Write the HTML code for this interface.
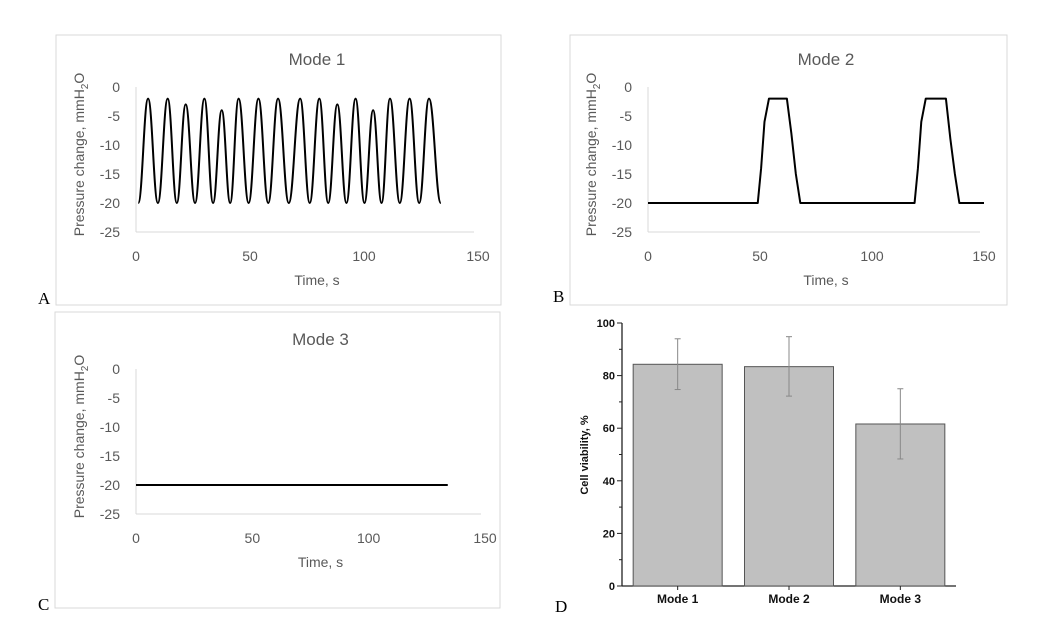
<!DOCTYPE html>
<html><head><meta charset="utf-8"><style>
body{margin:0;background:#fff;}
svg{display:block;font-family:"Liberation Sans",sans-serif;}
.tk{fill:#595959;font-size:14px;}
.tt{fill:#595959;font-size:17px;}
.at{fill:#595959;font-size:14px;}
.pl{font-family:"Liberation Serif",serif;font-size:17px;fill:#000;}
</style></head><body>
<svg id="s" width="1042" height="639" viewBox="0 0 1042 639">
<rect x="56" y="35" width="445" height="270" fill="#fff" stroke="#d9d9d9"/>
<rect x="570" y="35" width="437" height="270" fill="#fff" stroke="#d9d9d9"/>
<rect x="55" y="312" width="445" height="296" fill="#fff" stroke="#d9d9d9"/>
<text class="pl" x="38" y="304">A</text>
<text class="pl" x="553" y="302">B</text>
<text class="pl" x="38" y="610">C</text>
<text class="pl" x="555" y="612">D</text>
</svg>
<script>
const mode1T=[1,5.3,9.6,13.9,17.9,21.8,25.9,30,33.8,37.6,41.3,45,49.4,53.7,58,62.3,67,72,76.2,80.4,84.3,88.3,92.3,96.3,100.2,104,107.7,111.4,115.7,120,124.2,128.5,133.7];
const mode1V=[-20,-2,-20,-2,-20,-3,-20,-2,-20,-4,-20,-2,-20,-2,-20,-2,-20,-2,-20,-2,-20,-3,-20,-2,-20,-4,-20,-2,-20,-2,-20,-2,-20];
const mode2T=[0,49,50.5,52,54,62,64,66,68,119,120.5,122,124,133,135,137,139,150];
const mode2V=[-20,-20,-14,-6,-2,-2,-8,-15,-20,-20,-14,-6,-2,-2,-9,-15,-20,-20];
const mode3T=[0,134];
const mode3V=[-20,-20];
const xTicks=[0,50,100,150];
const yTicks=[0,-5,-10,-15,-20,-25];
const barCats=["Mode 1","Mode 2","Mode 3"];
const barVals=[84.3,83.4,61.6];
const barHi=[94,94.8,75];
const barLo=[74.7,72.2,48.3];
const barTicks=[0,20,40,60,80,100];

const svg=document.getElementById('s');
const NS='http://www.w3.org/2000/svg';
function mk(tag,attrs,txt){const e=document.createElementNS(NS,tag);for(const k in attrs)e.setAttribute(k,attrs[k]);if(txt!==undefined)e.textContent=txt;svg.appendChild(e);return e;}

function linePanel(p,T,V,smooth,title,key){
  const sx=t=>p.x0+(t/150)*(p.x1-p.x0);
  const sy=v=>p.y0+(v/-25)*(p.y1-p.y0);
  let e=mk('line',{x1:p.x0,y1:p.y1,x2:p.x1-4,y2:p.y1,stroke:'#d9d9d9','stroke-width':1});
  
  
  e=mk('line',{x1:p.x0,y1:p.y0,x2:p.x0,y2:p.y1,stroke:'#d9d9d9','stroke-width':1});
  
  
  xTicks.forEach(t=>{const l=mk('text',{class:'tk',x:sx(t),y:p.y1+29,'text-anchor':'middle'},t);
    
    });
  yTicks.forEach(v=>{const l=mk('text',{class:'tk',x:p.x0-16,y:sy(v)+5,'text-anchor':'end'},v);
    
    });
  let d='M'+sx(T[0])+','+sy(V[0]);
  for(let i=1;i<T.length;i++){
    const xa=sx(T[i-1]),ya=sy(V[i-1]),xb=sx(T[i]),yb=sy(V[i]);
    if(smooth){const dx=(xb-xa)*0.42;d+=' C'+(xa+dx)+','+ya+' '+(xb-dx)+','+yb+' '+xb+','+yb;}
    else d+=' L'+xb+','+yb;
  }
  e=mk('path',{d:d,fill:'none',stroke:'#000','stroke-width':2,'stroke-linejoin':'round'});
  
  
  e=mk('text',{class:'tt',x:(p.x0+p.x1)/2+10,y:p.ty,'text-anchor':'middle'},title);
  
  
  e=mk('text',{class:'at',x:(p.x0+p.x1)/2+10,y:p.y1+53,'text-anchor':'middle'},'Time, s');
  
  
  const yt=mk('text',{class:'at',transform:'translate('+(p.x0-52)+','+((p.y0+p.y1)/2-5)+') rotate(-90)','text-anchor':'middle'});
  
  
  yt.innerHTML='Pressure change, mmH<tspan font-size="10" dy="4">2</tspan><tspan dy="-4">O</tspan>';
}
linePanel({x0:136,x1:478,y0:87,y1:232,ty:65},mode1T,mode1V,true,'Mode 1','mode1');
linePanel({x0:648,x1:984,y0:87,y1:232,ty:65},mode2T,mode2V,false,'Mode 2','mode2');
linePanel({x0:136,x1:485,y0:369,y1:514,ty:345},mode3T,mode3V,false,'Mode 3','mode3');

const bx0=622,bx1=956,by0=586,by1=323;
const bw=(bx1-bx0)/barCats.length;
const by=v=>by0-(v/100)*(by0-by1);
let e=mk('line',{x1:bx0,y1:by0,x2:bx1,y2:by0,stroke:'#222','stroke-width':1.3});


e=mk('line',{x1:bx0,y1:by0,x2:bx0,y2:by1,stroke:'#222','stroke-width':1.3});


for(let v=0;v<=100;v+=10){const l=mk('line',{x1:bx0-(v%20?3:5),y1:by(v),x2:bx0,y2:by(v),stroke:'#222'});
  
  }
barTicks.forEach(v=>{const l=mk('text',{x:bx0-7,y:by(v)+4,'text-anchor':'end','font-size':'11','font-weight':'bold',fill:'#111'},v);
  
  });
barCats.forEach((c,i)=>{
  const cx=bx0+bw*(i+0.5);
  let r=mk('rect',{x:cx-44.5,y:by(barVals[i]),width:89,height:by0-by(barVals[i]),fill:'#c0c0c0',stroke:'#555','stroke-width':1});
  
  
  let l=mk('line',{x1:cx,y1:by(barHi[i]),x2:cx,y2:by(barLo[i]),stroke:'#888'});
  
  
  [barHi[i],barLo[i]].forEach(v=>{const c2=mk('line',{x1:cx-3,y1:by(v),x2:cx+3,y2:by(v),stroke:'#888'});
    
    });
  let t=mk('line',{x1:cx,y1:by0,x2:cx,y2:by0+4,stroke:'#222'});
  
  
  let tx=mk('text',{x:cx,y:by0+17,'text-anchor':'middle','font-size':'12','font-weight':'bold',fill:'#111'},c);
  
  
});
e=mk('text',{transform:'translate(588,455) rotate(-90)','text-anchor':'middle','font-size':'11','font-weight':'bold',fill:'#111'},'Cell viability, %');


</script>
</body></html>
